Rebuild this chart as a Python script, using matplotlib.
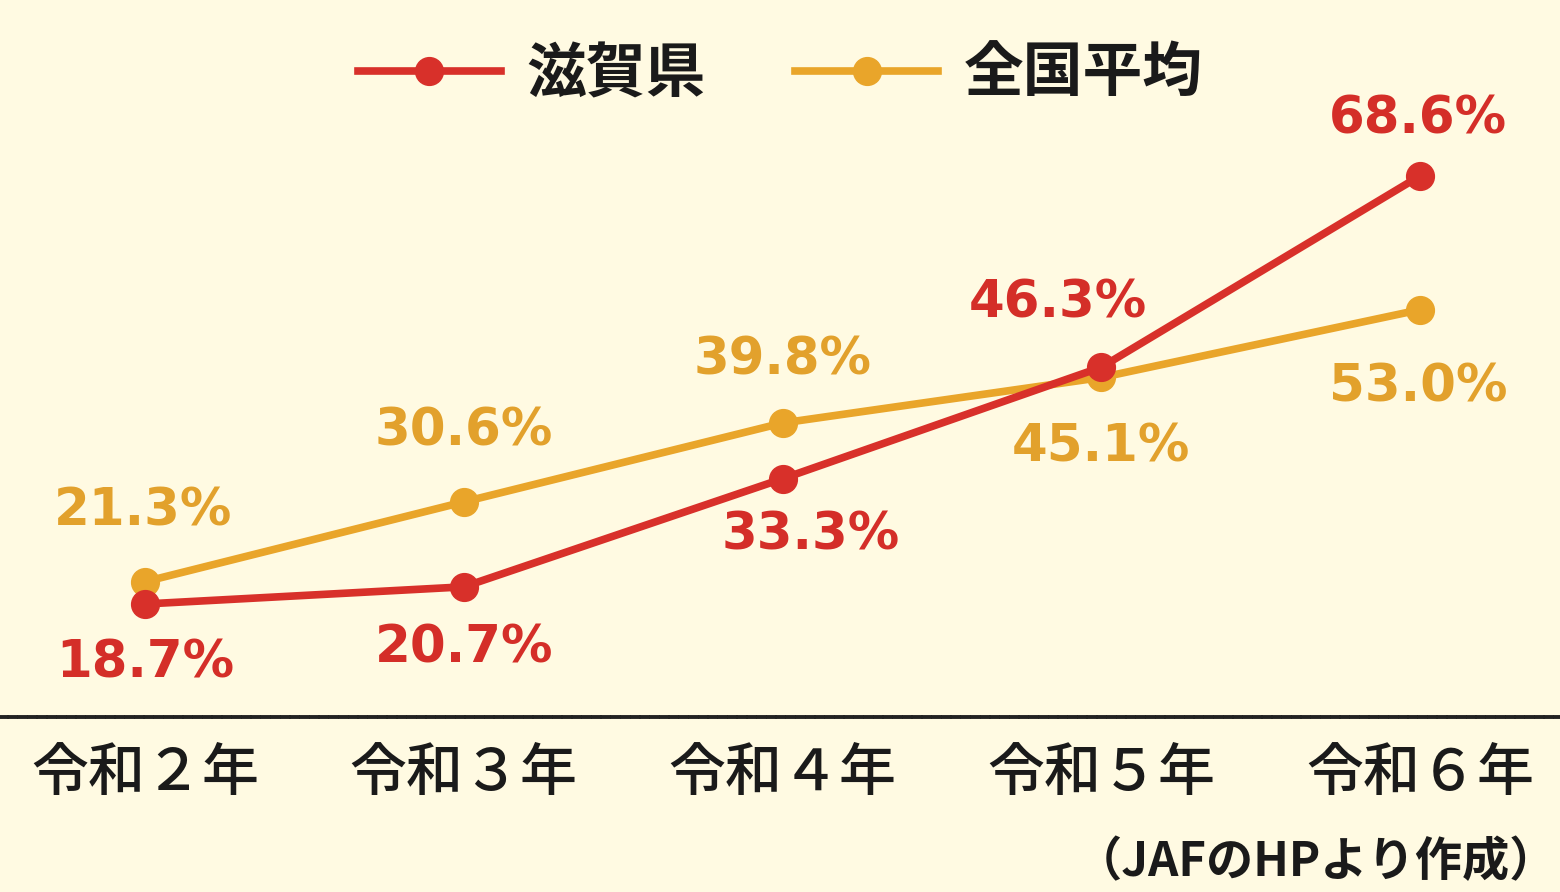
import matplotlib
matplotlib.use("Agg")
import matplotlib.pyplot as plt

plt.rcParams['font.family'] = ['Noto Sans CJK JP', 'DejaVu Sans']

years = ["令和２年", "令和３年", "令和４年", "令和５年", "令和６年"]
shiga = [18.7, 20.7, 33.3, 46.3, 68.6]
national = [21.3, 30.6, 39.8, 45.1, 53.0]
series_names = ["滋賀県", "全国平均"]

# label offsets in pixels (dx, dy) relative to each point
shiga_off = [(0, -60), (0, -62), (28, -57), (-43, 64), (-2, 56)]
national_off = [(-2, 70), (0, 70), (0, 62), (0, -70), (-2, -78)]

bg = "#FFFAE2"
red = "#D8302A"
orange = "#E9A52A"
red_txt = "#D42E28"
orange_txt = "#E2A12C"

fig = plt.figure(figsize=(15.6, 8.92), dpi=100, facecolor=bg)
ax = fig.add_axes([0, 0.1962, 1, 0.8038])
ax.set_facecolor(bg)

x = list(range(len(years)))
ax.plot(x, shiga, color=red, lw=5.5, marker="o", ms=20, label=series_names[0], zorder=4)
ax.plot(x, national, color=orange, lw=5.5, marker="o", ms=20, label=series_names[1], zorder=3)

for i in x:
    ax.annotate(f"{shiga[i]:.1f}%", (i, shiga[i]), xytext=shiga_off[i],
                textcoords="offset pixels", ha="center", va="center",
                fontsize=37, fontweight="bold", color=red_txt, family="DejaVu Sans")
    ax.annotate(f"{national[i]:.1f}%", (i, national[i]), xytext=national_off[i],
                textcoords="offset pixels", ha="center", va="center",
                fontsize=37, fontweight="bold", color=orange_txt, family="DejaVu Sans")

ax.set_xlim(-0.455, 4.439)
ax.set_ylim(5.53, 89.1)
ax.set_xticks(x)
ax.set_xticklabels(years, fontsize=41, fontweight="medium", color="#1a1a1a")
ax.tick_params(axis="x", length=0, pad=20)
ax.set_yticks([])
for s in ["top", "right", "left"]:
    ax.spines[s].set_visible(False)
ax.spines["bottom"].set_linestyle((0, (1.6, 0.9)))
ax.spines["bottom"].set_linewidth(2.8)
ax.spines["bottom"].set_color("#222222")

leg = ax.legend(loc="upper center", bbox_to_anchor=(0.5, 1.012), ncol=2, frameon=False,
                handlelength=2.4, handletextpad=0.42, columnspacing=1.5,
                prop={"size": 43, "weight": "bold"})
for t in leg.get_texts():
    t.set_color("#1a1a1a")

fig.text(0.998, 0.034, "（JAFのHPより作成）", ha="right", va="center",
         fontsize=34, fontweight="bold", color="#1a1a1a")

fig.savefig("out.png", dpi=100, facecolor=bg)
